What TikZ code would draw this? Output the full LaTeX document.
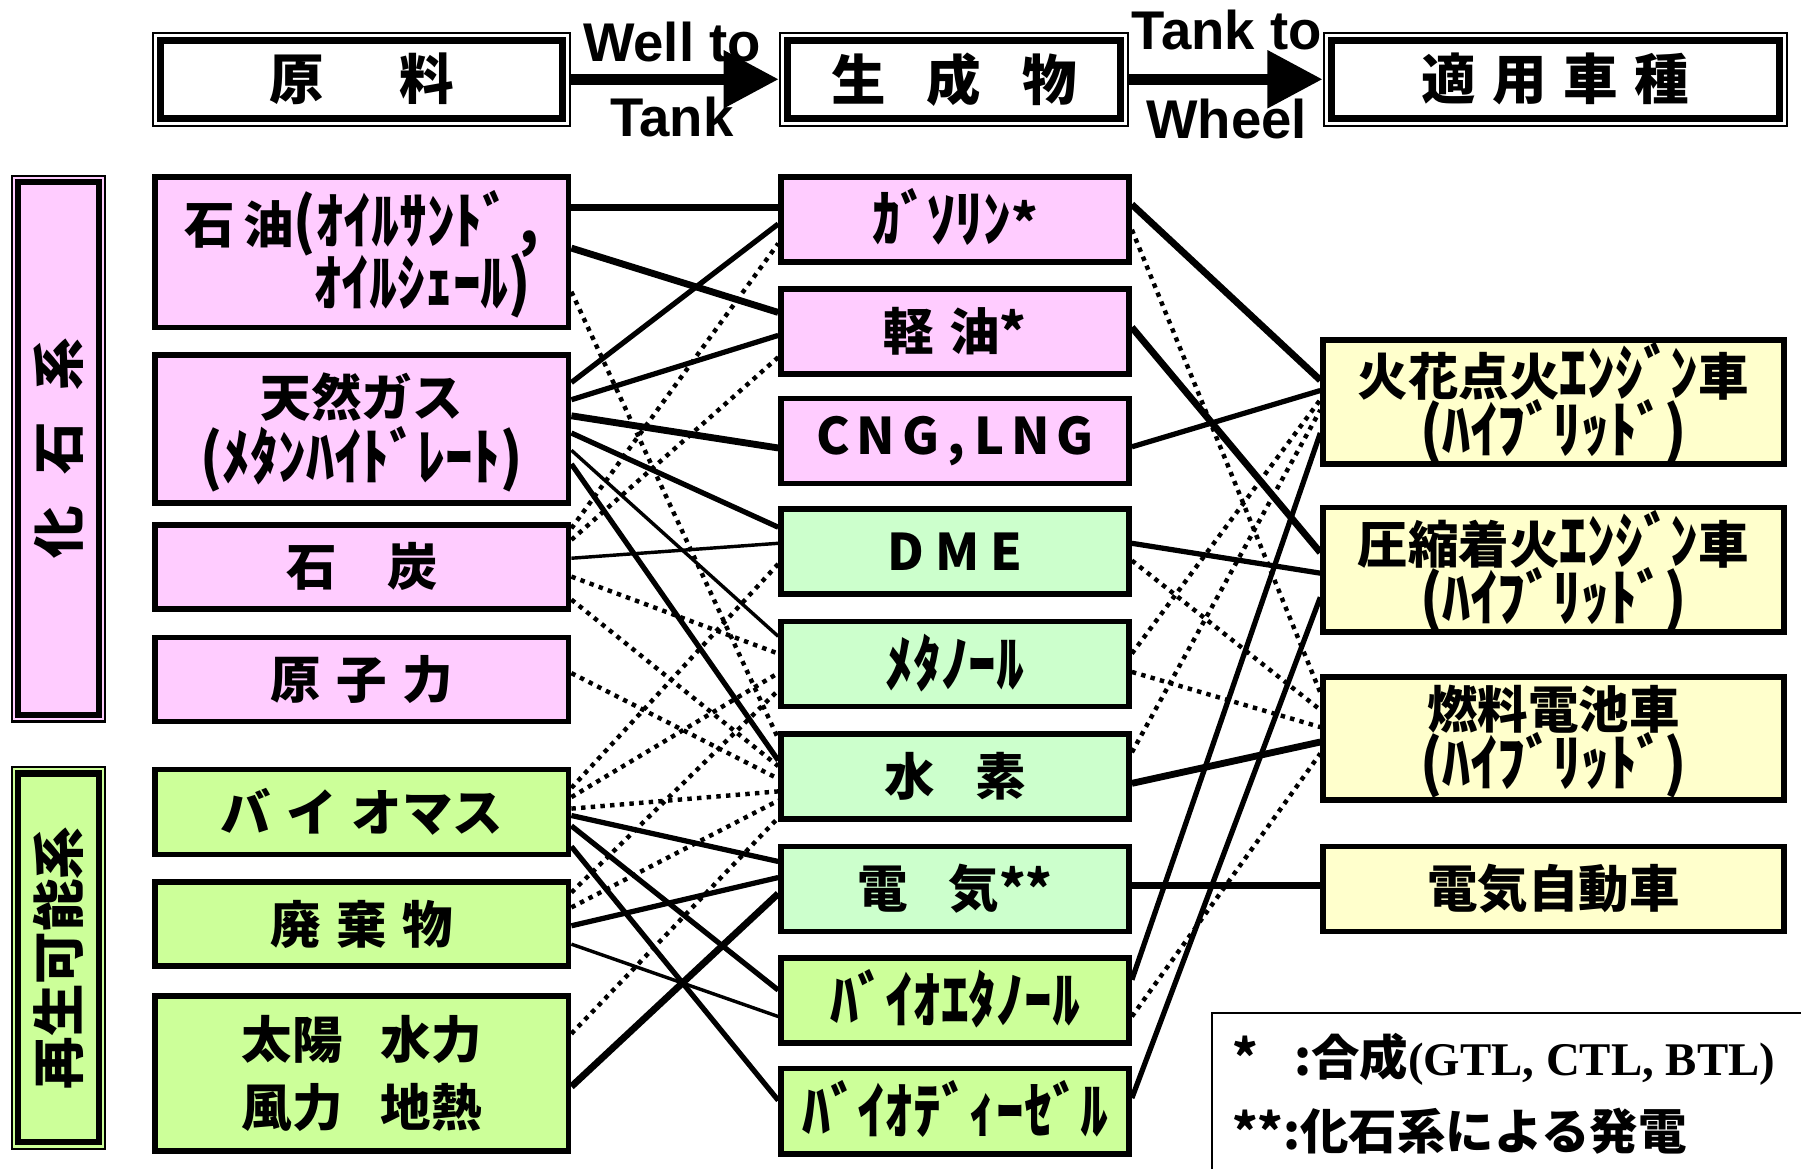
\documentclass[tikz,border=0pt]{standalone}
\usepackage{fontspec}
\usepackage{tikz}
\usetikzlibrary{arrows.meta}
\setmainfont{Noto Sans CJK JP}
\newfontfamily\arialfont{Liberation Sans}
\newfontfamily\timesfont{Liberation Serif}
\definecolor{fospink}{HTML}{FFCCFF}
\definecolor{mintgrn}{HTML}{CCFFCC}
\definecolor{biogrn}{HTML}{CCFF99}
\definecolor{vehyel}{HTML}{FFFFCC}
\newcommand{\tallkana}[1]{\raisebox{0pt}[1em][0.12em]{\scalebox{1.1}[1.22]{#1}}}

\begin{document}
\begin{tikzpicture}[x=0.01cm,y=-0.01cm,
    box/.style={draw, line width=1.35pt, inner sep=0pt, align=center,
      font=\fontsize{12.5}{15.5}\selectfont\bfseries},
    src/.style={box, minimum width=3.6cm},
    prd/.style={box, minimum width=3.03cm, minimum height=0.74cm},
    veh/.style={box, fill=vehyel, minimum width=4.01cm,
      font=\fontsize{12.5}{14.2}\selectfont\bfseries},
    hdrout/.style={draw, line width=0.5pt, fill=white, minimum height=0.81cm},
    hdr/.style={draw, line width=1.7pt, inner sep=0pt, minimum height=0.68cm,
      font=\fontsize{13.5}{15}\selectfont\bfseries},
    catout/.style={draw, line width=0.5pt, minimum width=0.81cm},
    cat/.style={draw, line width=1.5pt, inner sep=0pt, minimum width=0.70cm,
      font=\fontsize{13}{15}\selectfont\bfseries},
    wtt/.style={font=\arialfont\fontsize{13.5}{15}\selectfont\bfseries, inner sep=0pt},
    harrow/.style={line width=2.8pt, -{Triangle[length=0.48cm,width=0.48cm]}},
    thk/.style={line width=1.7pt},
    med/.style={line width=1.3pt},
    thn/.style={line width=0.85pt},
    dots/.style={line width=1.1pt, dash pattern=on 1.1pt off 1.3pt}]
    \useasboundingbox (0,0) rectangle (1568,1017);

    % headers
    \node[hdrout, minimum width=3.63cm] (hraw0) at (315,69) {};
    \node[hdr, minimum width=3.50cm] (hraw) at (315,69) {原\hspace{1.4em}料};
    \node[hdrout, minimum width=3.03cm] (hprd0) at (830.5,69) {};
    \node[hdr, minimum width=2.90cm] (hprd) at (830.5,69) {生\hspace{0.75em}成\hspace{0.75em}物};
    \node[hdrout, minimum width=4.03cm] (hveh0) at (1354,69) {};
    \node[hdr, minimum width=3.90cm] (hveh) at (1354,69) {適\hspace{0.3em}用\hspace{0.3em}車\hspace{0.3em}種};
    \draw[harrow] (hraw0.east) -- (hprd0.west);
    \draw[harrow] (hprd0.east) -- (hveh0.west);
    \node[wtt] (wt1) at (585,37) {Well to};
    \node[wtt] (wt2) at (585,102) {Tank};
    \node[wtt] (tw1) at (1068,26) {Tank to};
    \node[wtt] (tw2) at (1068,104) {Wheel};

    % categories
    \node[catout, fill=fospink, minimum height=4.75cm] (cfos0) at (51,390.5) {};
    \node[cat, fill=fospink, minimum height=4.64cm] (cfos) at (51,390.5)
      {\rotatebox{90}{化\hspace{0.6em}石\hspace{0.6em}系}};
    \node[catout, fill=biogrn, minimum height=3.32cm] (cren0) at (51,834) {};
    \node[cat, fill=biogrn, minimum height=3.21cm] (cren) at (51,834)
      {\rotatebox{90}{再生可能系}};

    % raw materials
    \node[src, fill=fospink, minimum height=1.31cm, align=right] (oil) at (315,219.5)
      {石\,油\tallkana{(ｵｲﾙｻﾝﾄﾞ\,,}\\\tallkana{ｵｲﾙｼｪｰﾙ)}\,};
    \node[src, fill=fospink, minimum height=1.29cm] (ngas) at (315,373.5)
      {天然ガス\\\tallkana{(ﾒﾀﾝﾊｲﾄﾞﾚｰﾄ)}};
    \node[src, fill=fospink, minimum height=0.73cm] (coal) at (315,493.5) {石\hspace{1em}炭};
    \node[src, fill=fospink, minimum height=0.73cm] (nucl) at (315,591.5) {原\hspace{0.3em}子\hspace{0.3em}力};
    \node[src, fill=biogrn, minimum height=0.74cm] (bio) at (315,707) {バ\hspace{0.3em}イ\hspace{0.3em}オマス};
    \node[src, fill=biogrn, minimum height=0.73cm] (waste) at (315,804.5) {廃\hspace{0.3em}棄\hspace{0.3em}物};
    \node[src, fill=biogrn, minimum height=1.35cm,
      font=\fontsize{12.5}{17}\selectfont\bfseries] (solar) at (315,934.5)
      {太陽\hspace{0.75em}水力\\風力\hspace{0.75em}地熱};

    % products
    \node[prd, fill=fospink] (gsl) at (831.5,191) {\tallkana{ｶﾞｿﾘﾝ}*};
    \node[prd, fill=fospink] (dsl) at (831.5,288.5) {軽\hspace{0.3em}油*};
    \node[prd, fill=fospink] (cng) at (831.5,384) {\addfontfeature{LetterSpace=14}CNG\,,\,LNG};
    \node[prd, fill=mintgrn] (dme) at (831.5,480) {\addfontfeature{LetterSpace=22}DME};
    \node[prd, fill=mintgrn] (meoh) at (831.5,578) {\tallkana{ﾒﾀﾉｰﾙ}};
    \node[prd, fill=mintgrn] (h2) at (831.5,676) {水\hspace{0.8em}素};
    \node[prd, fill=mintgrn] (elec) at (831.5,774) {電\hspace{0.8em}気**};
    \node[prd, fill=biogrn] (etoh) at (831.5,871) {\tallkana{ﾊﾞｲｵｴﾀﾉｰﾙ}};
    \node[prd, fill=biogrn] (bdf) at (831.5,967.5) {\tallkana{ﾊﾞｲｵﾃﾞｨｰｾﾞﾙ}};

    % vehicles
    \node[veh, minimum height=1.08cm] (sie) at (1352.5,350) {火花点火\tallkana{ｴﾝｼﾞﾝ}車\\\tallkana{(ﾊｲﾌﾞﾘｯﾄﾞ)}};
    \node[veh, minimum height=1.08cm] (cie) at (1352.5,496) {圧縮着火\tallkana{ｴﾝｼﾞﾝ}車\\\tallkana{(ﾊｲﾌﾞﾘｯﾄﾞ)}};
    \node[veh, minimum height=1.07cm] (fcv) at (1352.5,643) {燃料電池車\\\tallkana{(ﾊｲﾌﾞﾘｯﾄﾞ)}};
    \node[veh, minimum height=0.74cm] (ev) at (1352.5,774) {電気自動車};

    % well to tank
    \draw[thk] (oil.east |- 0,181) -- (gsl.west |- 0,181);
    \draw[thk] (oil.east |- 0,216) -- (dsl.west |- 0,272);
    \draw[dots] (oil.east |- 0,254) -- (h2.west |- 0,643);
    \draw[med] (ngas.east |- 0,333) -- (gsl.west |- 0,195);
    \draw[med] (ngas.east |- 0,348) -- (dsl.west |- 0,292);
    \draw[thk] (ngas.east |- 0,362) -- (cng.west |- 0,390);
    \draw[med] (ngas.east |- 0,377) -- (dme.west |- 0,459);
    \draw[thn] (ngas.east |- 0,392) -- (meoh.west |- 0,554);
    \draw[med] (ngas.east |- 0,404) -- (h2.west |- 0,662);
    \draw[dots] (coal.east |- 0,460) -- (gsl.west |- 0,212);
    \draw[dots] (coal.east |- 0,470) -- (dsl.west |- 0,311);
    \draw[thn] (coal.east |- 0,486) -- (dme.west |- 0,473);
    \draw[dots] (coal.east |- 0,502) -- (meoh.west |- 0,569);
    \draw[dots] (coal.east |- 0,522) -- (h2.west |- 0,667);
    \draw[dots] (nucl.east |- 0,586) -- (h2.west |- 0,678);
    \draw[dots] (bio.east |- 0,686) -- (dme.west |- 0,491);
    \draw[dots] (bio.east |- 0,694) -- (meoh.west |- 0,586);
    \draw[dots] (bio.east |- 0,704) -- (h2.west |- 0,689);
    \draw[med] (bio.east |- 0,710) -- (elec.west |- 0,750);
    \draw[med] (bio.east |- 0,719) -- (etoh.west |- 0,862);
    \draw[med] (bio.east |- 0,737) -- (bdf.west |- 0,958);
    \draw[dots] (waste.east |- 0,777) -- (meoh.west |- 0,601);
    \draw[dots] (waste.east |- 0,790) -- (h2.west |- 0,697);
    \draw[med] (waste.east |- 0,806) -- (elec.west |- 0,764);
    \draw[thn] (waste.east |- 0,822) -- (etoh.west |- 0,885);
    \draw[dots] (solar.east |- 0,900) -- (h2.west |- 0,712);
    \draw[thk] (solar.east |- 0,946) -- (elec.west |- 0,778);

    % tank to wheel
    \draw[thk] (gsl.east |- 0,178) -- (sie.west |- 0,331);
    \draw[dots] (gsl.east |- 0,200) -- (fcv.west |- 0,603);
    \draw[thk] (dsl.east |- 0,285) -- (cie.west |- 0,481);
    \draw[med] (cng.east |- 0,389) -- (sie.west |- 0,340);
    \draw[med] (dme.east |- 0,473) -- (cie.west |- 0,499);
    \draw[dots] (dme.east |- 0,488) -- (fcv.west |- 0,618);
    \draw[dots] (meoh.east |- 0,569) -- (sie.west |- 0,348);
    \draw[dots] (meoh.east |- 0,585) -- (fcv.west |- 0,633);
    \draw[dots] (h2.east |- 0,655) -- (sie.west |- 0,357);
    \draw[thk] (h2.east |- 0,682) -- (fcv.west |- 0,646);
    \draw[thk] (elec.east |- 0,771) -- (ev.west |- 0,771);
    \draw[med] (etoh.east |- 0,853) -- (sie.west |- 0,377);
    \draw[dots] (etoh.east |- 0,885) -- (fcv.west |- 0,656);
    \draw[med] (bdf.east |- 0,956) -- (cie.west |- 0,520);

    % note
    \draw[line width=0.5pt] (1600,882) -- (1055,882) -- (1055,1050);
    \node[anchor=west, inner sep=0pt, font=\fontsize{12}{14}\selectfont\bfseries] (note1) at (1072,922)
      {*\hspace{0.75em}:合成{\timesfont\fontsize{11.6}{14}\selectfont(GTL, CTL, BTL)}};
    \node[anchor=west, inner sep=0pt, font=\fontsize{12}{14}\selectfont\bfseries] (note2) at (1072,985)
      {**:化石系による発電};
\end{tikzpicture}
\end{document}
